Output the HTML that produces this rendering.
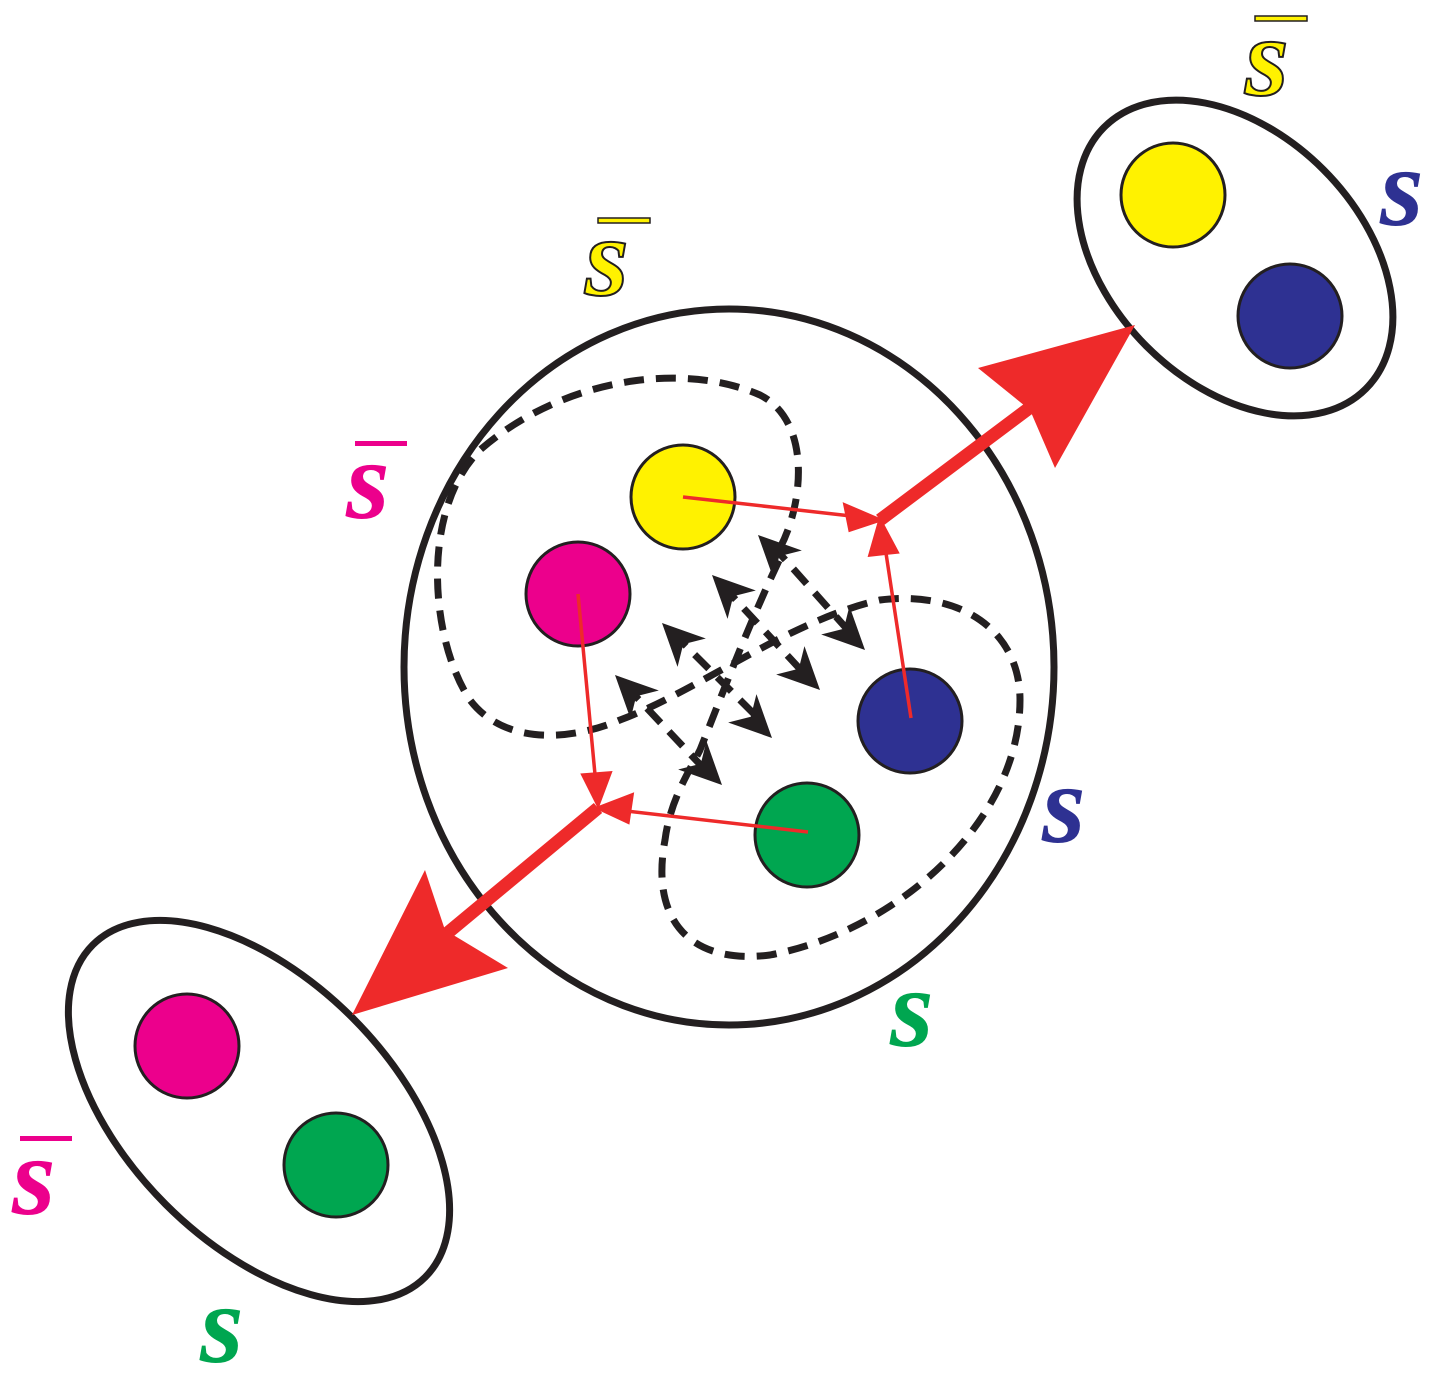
<!DOCTYPE html>
<html><head><meta charset="utf-8"><style>html,body{margin:0;padding:0;background:#fff}</style></head>
<body>
<svg width="1435" height="1380" viewBox="0 0 1435 1380" xmlns="http://www.w3.org/2000/svg">
<defs>
<path id="ah" d="M0 0 L-42 -20 L-30 0 L-42 20 Z" fill="#231f20"/>
</defs>
<g fill="none" stroke="#231f20" stroke-width="7">
<ellipse cx="729" cy="667" rx="325" ry="358"/>
<ellipse cx="1235" cy="258" rx="185" ry="125" transform="rotate(45 1235 258)"/>
<ellipse cx="259" cy="1111" rx="235" ry="132" transform="rotate(45 259 1111)"/>
</g>
<g fill="none" stroke="#231f20" stroke-width="7" stroke-dasharray="20 12">
<path d="M780 548 C805 500 810 420 760 395 C680 360 560 380 480 450 C420 510 430 640 470 700 C500 740 560 745 620 720 C700 690 790 620 880 600 C960 590 1020 630 1020 700 C1020 820 900 930 770 955 C690 965 650 920 665 840 C670 800 690 770 700 750 C720 700 750 620 785 548"/>
<path d="M625 685 L710 775"/>
<path d="M672 632 L762 722"/>
<path d="M722 585 L812 682"/>
<path d="M772 545 L855 638"/>
</g>
<g>
<use href="#ah" transform="translate(615,675) rotate(-135)"/>
<use href="#ah" transform="translate(662,623) rotate(-135)"/>
<use href="#ah" transform="translate(712,575) rotate(-135)"/>
<use href="#ah" transform="translate(758,535) rotate(-135)"/>
<use href="#ah" transform="translate(865,650) rotate(45)"/>
<use href="#ah" transform="translate(820,690) rotate(45)"/>
<use href="#ah" transform="translate(772,738) rotate(45)"/>
<use href="#ah" transform="translate(722,785) rotate(45)"/>
</g>
<g stroke="#231f20" stroke-width="3">
<circle cx="683" cy="497" r="52" fill="#fff200"/>
<circle cx="578" cy="594" r="52" fill="#ec008c"/>
<circle cx="910" cy="721" r="52" fill="#2e3192"/>
<circle cx="807" cy="835" r="52" fill="#00a650"/>
<circle cx="1173" cy="195" r="52" fill="#fff200"/>
<circle cx="1290" cy="316" r="52" fill="#2e3192"/>
<circle cx="187" cy="1046" r="52" fill="#ec008c"/>
<circle cx="336" cy="1165" r="52" fill="#00a650"/>
</g>
<g stroke="#ee2a2a" stroke-width="3.5" fill="#ee2a2a">
<line x1="683" y1="497" x2="860" y2="517"/><polygon points="880,520 845,505 850,530"/>
<line x1="911" y1="718" x2="884" y2="540"/><polygon points="880,520 870,555 897,552"/>
<line x1="578" y1="594" x2="596" y2="785"/><polygon points="598,805 583,775 610,773"/>
<line x1="808" y1="832" x2="618" y2="810"/><polygon points="598,808 632,795 628,822"/>
</g>
<g fill="#ee2a2a">
<line x1="880" y1="520" x2="1060" y2="385" stroke="#ee2a2a" stroke-width="13"/>
<polygon points="1135,325 978,368 1030,410 1055,468"/>
<line x1="598" y1="808" x2="415" y2="960" stroke="#ee2a2a" stroke-width="13"/>
<polygon points="352,1015 425,870 445,930 508,968"/>
</g>
<g font-family="'Liberation Serif',serif" font-style="italic" font-weight="bold" font-size="112" stroke="#231f20" stroke-width="2">
<text x="585" y="295" fill="#fff200">s</text>
<text x="1245" y="95" fill="#fff200">s</text>
<text x="1380" y="225" fill="#2e3192" stroke="none">s</text>
<text x="1042" y="842" fill="#2e3192" stroke="none">s</text>
<text x="890" y="1046" fill="#00a650" stroke="none">s</text>
<text x="200" y="1362" fill="#00a650" stroke="none">s</text>
<text x="346" y="518" fill="#ec008c" stroke="none">s</text>
<text x="12" y="1214" fill="#ec008c" stroke="none">s</text>
</g>
<rect x="598" y="218" width="52" height="5" fill="#fff200" stroke="#231f20" stroke-width="1.5"/>
<rect x="1255" y="16" width="52" height="5" fill="#fff200" stroke="#231f20" stroke-width="1.5"/>
<rect x="355" y="441" width="52" height="5" fill="#ec008c"/>
<rect x="20" y="1136" width="52" height="5" fill="#ec008c"/>
</svg>
</body></html>
